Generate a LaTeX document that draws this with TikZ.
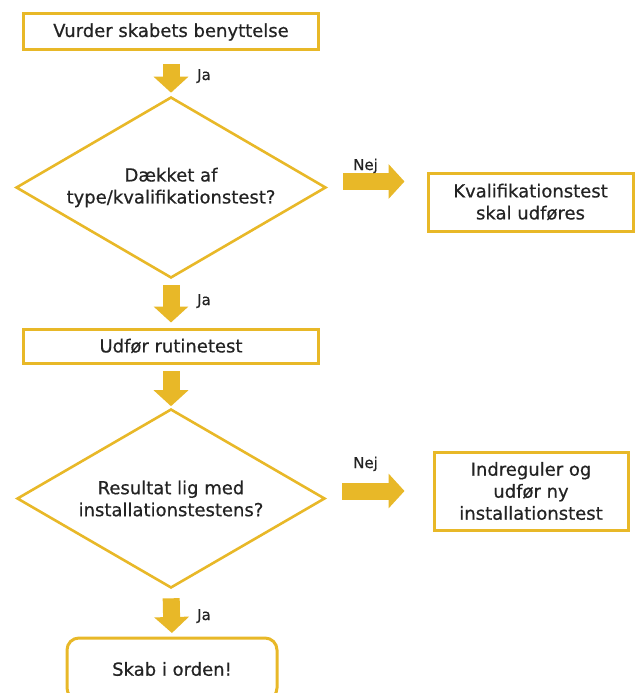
\documentclass[tikz,border=0pt]{standalone}
\usepackage{fontspec}
\setmainfont{DejaVu Sans}[FakeBold=0.6]
\usetikzlibrary{shapes.geometric,arrows.meta}
\definecolor{gold}{RGB}{232,184,40}
\definecolor{txt}{RGB}{35,35,35}
\begin{document}
\begin{tikzpicture}[x=1pt,y=-1pt,
  every node/.style={font=\fontsize{18}{22}\selectfont, text=txt},
  box/.style={draw=gold, line width=3pt, align=center, inner sep=0pt},
  decision/.style={diamond, draw=gold, line width=2.6pt, align=center, inner sep=0pt, aspect=1.7},
  blockarrow/.style={draw=gold, line width=17pt, -{Triangle[length=16pt,width=34pt]}},
  lbl/.style={font=\fontsize{15}{18}\selectfont, anchor=base west, inner sep=0pt}
]
\useasboundingbox (0,0) rectangle (636,693);
\clip (0,0) rectangle (636,693);

\node[box, minimum width=295pt, minimum height=36pt] (b1) at (171,32) {Vurder skabets benyttelse};
\node[decision, minimum width=310pt, minimum height=181pt] (d1) at (171,187.5) {Dækket af\\type/kvalifikationstest?};
\node[box, minimum width=205pt, minimum height=58pt] (k1) at (530.5,202) {Kvalifikationstest\\skal udføres};
\node[box, minimum width=295pt, minimum height=34pt] (b2) at (171,346) {Udfør rutinetest};
\node[decision, minimum width=308pt, minimum height=179pt] (d2) at (171,498.5) {Resultat lig med\\installationstestens?};
\node[box, minimum width=194pt, minimum height=78pt] (i1) at (531,491) {Indreguler og\\udfør ny\\installationstest};
\node[box, rounded corners=12pt, minimum width=210pt, minimum height=62pt] (end) at (172,669) {Skab i orden!};

\draw[blockarrow, shorten <=12.5pt, shorten >=3pt] (b1.south) -- (d1.north);
\draw[blockarrow, shorten <=6pt, shorten >=5pt] (d1.south) -- (b2.north);
\draw[blockarrow, shorten <=6.5pt, shorten >=1.5pt] (b2.south) -- (d2.north);
\draw[blockarrow, shorten <=9pt, shorten >=3.5pt] (d2.south) -- (end.north);
\draw[blockarrow, shorten <=16pt, shorten >=22pt] ([yshift=6pt]d1.east) -- ([yshift=6pt]d1.east -| k1.west);
\draw[blockarrow, shorten <=16pt, shorten >=28pt] (i1.west -| d2.east) -- (i1.west);

\node[lbl] (ja1) at (197,80) {Ja};
\node[lbl] (ja2) at (197,305) {Ja};
\node[lbl] (ja3) at (197,620) {Ja};
\node[lbl] (nej1) at (353,170) {Nej};
\node[lbl] (nej2) at (353,468) {Nej};
\end{tikzpicture}
\end{document}
